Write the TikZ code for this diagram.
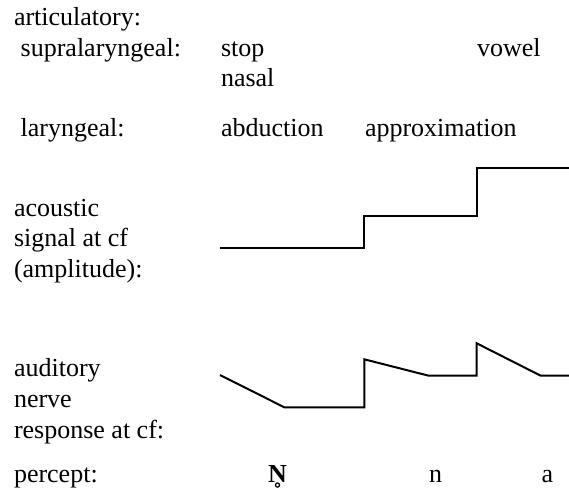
\documentclass[tikz,border=0pt]{standalone}
\usepackage{fontspec}
\setmainfont{LiberationSerif}[Extension=.ttf,UprightFont=*-Regular,BoldFont=*-Bold]
\begin{document}
\begin{tikzpicture}[x=1pt,y=-1pt,
  lbl/.style={anchor=base west,inner sep=0pt,outer sep=0pt,
              font=\fontsize{26}{30}\selectfont},
  trace/.style={line width=2pt,line join=miter,line cap=butt}]
\useasboundingbox[fill=white] (0,0) rectangle (569,499);

% row labels
\node[lbl] (art)    at (14,25)    {articulatory:};
\node[lbl] (supra)  at (20.7,56)  {supralaryngeal:};
\node[lbl] (laryn)  at (20.7,136) {laryngeal:};
\node[lbl] (ac1)    at (14,216)   {acoustic};
\node[lbl] (ac2)    at (14,246.7) {signal at cf};
\node[lbl] (ac3)    at (14,277.4) {(amplitude):};
\node[lbl] (au1)    at (14,376.7) {auditory};
\node[lbl] (au2)    at (14,407.3) {nerve};
\node[lbl] (au3)    at (14,438)   {response at cf:};
\node[lbl] (perc)   at (14,482)   {percept:};

% articulatory events
\node[lbl] (stop)   at (221,56)   {stop};
\node[lbl] (vowel)  at (477,56)   {vowel};
\node[lbl] (nasal)  at (221,86.7) {nasal};
\node[lbl] (abd)    at (221,136)  {abduction};
\node[lbl] (approx) at (365,136)  {approximation};

% percepts
\node[lbl] (pN) at (268,482) {\textbf{N̥}};
\node[lbl] (pn) at (429,482) {n};
\node[lbl] (pa) at (541.7,482) {a};

% acoustic amplitude at cf
\coordinate (s0) at (220,247.7);
\coordinate (s1) at (364.3,247.7);
\coordinate (s2) at (364.3,215.7);
\coordinate (s3) at (476.7,215.7);
\coordinate (s4) at (476.7,168);
\coordinate (s5) at (569,168);
\draw[trace] (s0) -- (s1) -- (s2) -- (s3) -- (s4) -- (s5);

% auditory nerve response at cf
\coordinate (r0) at (220,375);
\coordinate (r1) at (284.3,407.3);
\coordinate (r2) at (364.3,407.3);
\coordinate (r3) at (364.3,359.3);
\coordinate (r4) at (428.7,375.7);
\coordinate (r5) at (476.7,375.7);
\coordinate (r6) at (476.7,343.3);
\coordinate (r7) at (540.7,375.7);
\coordinate (r8) at (569,375.7);
\draw[trace] (r0) -- (r1) -- (r2) -- (r3) -- (r4) -- (r5) -- (r6) -- (r7) -- (r8);
\end{tikzpicture}
\end{document}
